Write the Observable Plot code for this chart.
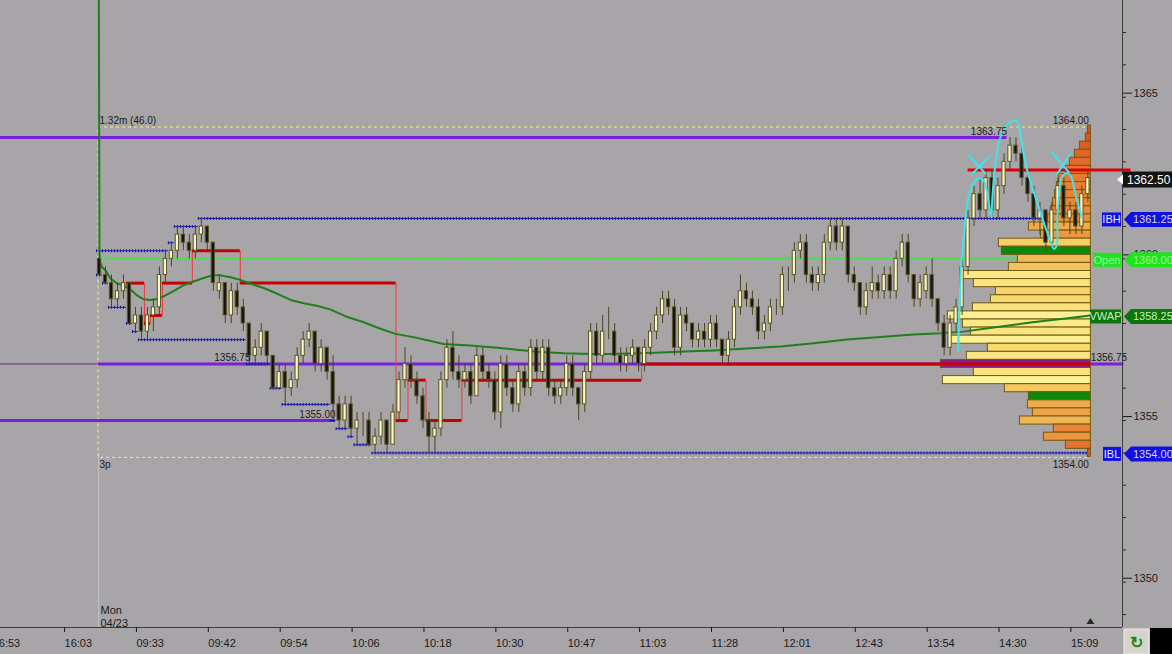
<!DOCTYPE html>
<html><head><meta charset="utf-8">
<script src="https://cdn.jsdelivr.net/npm/d3@7"></script>
<script src="https://cdn.jsdelivr.net/npm/@observablehq/plot@0.6"></script>
<style>
html,body{margin:0;padding:0;background:#a8a5a8;}
#wrap{position:relative;width:1172px;height:654px;overflow:hidden;background:#a8a5a8;}
svg text{font-family:"Liberation Sans",Arial,sans-serif;}
</style></head><body><div id="wrap"></div>
<script>
// ---------- DATA ----------
const opens = [
1360.0,1359.5,1359.25,1358.75,1359.0,1359.25,1358.0,1358.25,1357.75,1358.25,
1358.5,1359.5,1360.0,1360.25,1360.75,1360.5,1360.25,1360.75,1361.0,1360.5,
1359.0,1359.25,1358.25,1359.0,1358.5,1358.0,1357.0,1357.25,1357.75,1357.0,
1356.0,1356.5,1356.0,1356.25,1357.0,1357.5,1357.75,1356.75,1357.25,1356.5,
1355.5,1355.0,1355.5,1354.75,1355.0,1355.0,1354.25,1354.5,1355.0,1354.25,
1355.25,1356.25,1356.75,1356.25,1355.75,1355.0,1354.5,1354.75,1356.25,1357.25,
1356.5,1356.25,1356.5,1355.75,1357.0,1356.5,1356.25,1355.25,1356.75,1356.0,
1355.5,1356.5,1356.0,1357.25,1356.5,1357.25,1356.0,1355.75,1356.0,1356.75,
1356.0,1355.5,1356.5,1357.75,1357.0,1357.75,1357.75,1357.0,1356.75,1357.0,
1357.25,1356.75,1357.25,1357.75,1358.25,1358.75,1358.5,1357.25,1358.25,1358.0,
1357.5,1357.75,1357.5,1358.0,1357.5,1357.0,1357.5,1358.5,1359.0,1358.75,
1358.5,1357.75,1358.0,1358.5,1358.5,1359.5,1359.5,1360.25,1360.5,1359.5,
1359.25,1359.5,1360.5,1361.0,1360.5,1361.0,1359.5,1359.25,1358.5,1359.0,
1359.25,1359.0,1359.5,1359.0,1360.0,1360.5,1359.5,1358.75,1359.0,1359.5,
1358.75,1358.0,1357.25,1358.0,1358.5,1359.75,1361.25,1362.0,1361.5,1362.5,
1361.5,1362.25,1363.0,1363.5,1363.25,1362.5,1362.0,1361.25,1361.5,1360.5,
1361.5,1362.25,1361.25,1361.5,1361.0,1362.0];
const highs = [
1360.25,1359.75,1359.5,1359.25,1359.5,1359.25,1358.5,1358.5,1358.5,1358.75,
1359.75,1360.25,1360.5,1361.0,1361.0,1360.75,1361.0,1361.25,1361.0,1360.5,
1359.5,1359.25,1359.25,1359.25,1358.75,1358.0,1357.5,1358.0,1357.75,1357.0,
1356.75,1356.75,1356.5,1357.25,1357.75,1358.0,1357.75,1357.5,1357.25,1357.0,
1355.75,1355.75,1355.75,1355.25,1355.25,1355.25,1354.75,1355.25,1355.0,1355.5,
1356.5,1357.25,1357.0,1356.5,1356.0,1355.25,1355.0,1356.5,1357.5,1357.75,
1357.0,1356.75,1356.75,1357.25,1357.25,1356.75,1356.5,1357.0,1357.0,1356.25,
1356.75,1356.75,1357.5,1357.5,1357.5,1357.5,1356.25,1356.25,1357.0,1357.0,
1356.0,1356.75,1358.0,1358.0,1358.25,1358.5,1358.0,1357.25,1357.25,1357.5,
1357.25,1357.5,1358.0,1358.5,1359.0,1359.0,1358.75,1358.5,1358.5,1358.0,
1358.0,1358.0,1358.25,1358.25,1357.5,1357.75,1358.75,1359.5,1359.25,1359.0,
1358.75,1358.25,1358.75,1358.75,1359.75,1359.75,1360.5,1360.75,1360.75,1359.75,
1359.75,1360.75,1361.25,1361.25,1361.25,1361.0,1359.75,1359.25,1359.25,1359.75,
1359.5,1359.75,1359.75,1360.25,1360.75,1360.75,1359.5,1359.5,1359.75,1360.0,
1358.75,1358.25,1358.25,1358.75,1360.0,1361.5,1362.25,1362.5,1362.75,1362.75,
1362.5,1363.25,1363.75,1363.75,1363.5,1362.75,1362.25,1361.75,1361.5,1361.75,
1362.5,1362.5,1361.75,1361.75,1362.25,1362.75];
const lows = [
1359.5,1359.25,1358.5,1358.5,1358.75,1358.0,1357.75,1357.5,1357.5,1357.75,
1358.25,1359.25,1359.75,1360.0,1360.25,1360.0,1360.0,1360.5,1360.25,1359.0,
1358.75,1358.0,1358.0,1358.25,1357.75,1356.75,1356.75,1357.0,1356.75,1356.0,
1356.0,1355.5,1355.75,1356.0,1356.75,1357.25,1356.5,1356.5,1356.25,1355.0,
1354.75,1354.75,1354.5,1354.25,1354.5,1354.25,1354.0,1354.25,1354.0,1354.25,
1355.0,1356.0,1356.0,1355.5,1354.75,1354.0,1354.0,1354.5,1356.0,1356.25,
1356.0,1356.0,1355.5,1355.75,1356.25,1356.0,1355.0,1354.75,1355.75,1355.25,
1355.25,1355.75,1355.75,1356.25,1356.25,1355.75,1355.5,1355.5,1355.75,1355.75,
1355.0,1355.25,1356.25,1356.75,1356.75,1357.5,1356.75,1356.5,1356.5,1356.75,
1356.5,1356.5,1357.0,1357.5,1358.0,1358.25,1357.0,1357.0,1357.75,1357.25,
1357.25,1357.25,1357.25,1357.25,1356.75,1356.75,1357.25,1358.25,1358.5,1358.25,
1357.5,1357.5,1357.75,1358.25,1358.25,1359.0,1359.25,1360.0,1359.25,1359.0,
1359.0,1359.25,1360.25,1360.25,1360.25,1359.25,1359.0,1358.25,1358.25,1358.75,
1358.75,1358.75,1358.75,1358.75,1359.75,1359.25,1358.5,1358.5,1358.75,1358.5,
1357.75,1357.0,1357.0,1357.75,1358.25,1359.5,1361.0,1361.25,1361.25,1361.25,
1361.25,1362.0,1362.75,1363.0,1362.25,1361.75,1361.0,1360.75,1360.25,1360.25,
1361.25,1361.0,1360.75,1360.75,1360.75,1361.75];
const closes = [
1359.5,1359.25,1358.75,1359.0,1359.25,1358.0,1358.25,1357.75,1358.25,1358.5,
1359.5,1360.0,1360.25,1360.75,1360.5,1360.25,1360.75,1361.0,1360.5,1359.25,
1359.25,1358.25,1359.0,1358.5,1358.0,1357.0,1357.25,1357.75,1357.0,1356.0,
1356.5,1356.0,1356.25,1357.0,1357.5,1357.75,1356.75,1357.25,1356.5,1355.5,
1355.0,1355.5,1354.75,1355.0,1355.0,1354.25,1354.5,1355.0,1354.25,1355.25,
1356.25,1356.75,1356.25,1355.75,1355.0,1354.5,1354.75,1356.25,1357.25,1356.5,
1356.25,1356.5,1355.75,1357.0,1356.5,1356.25,1355.25,1356.75,1356.0,1355.5,
1356.5,1356.0,1357.25,1356.5,1357.25,1356.0,1355.75,1356.0,1356.75,1356.0,
1355.5,1356.5,1357.75,1357.0,1357.75,1357.75,1357.0,1356.75,1357.0,1357.25,
1356.75,1357.25,1357.75,1358.25,1358.75,1358.5,1357.25,1358.25,1358.0,1357.5,
1357.75,1357.5,1358.0,1357.5,1357.0,1357.5,1358.5,1359.0,1358.75,1358.5,
1357.75,1358.0,1358.5,1358.5,1359.5,1359.5,1360.25,1360.5,1359.5,1359.25,
1359.5,1360.5,1361.0,1360.5,1361.0,1359.5,1359.25,1358.5,1359.0,1359.25,
1359.0,1359.5,1359.0,1360.0,1360.5,1359.5,1358.75,1359.25,1359.5,1358.75,
1358.0,1357.25,1358.0,1358.5,1359.75,1361.25,1362.0,1361.5,1362.5,1361.5,
1362.25,1363.0,1363.5,1363.25,1362.5,1362.0,1361.25,1361.5,1360.5,1361.5,
1362.25,1361.25,1361.5,1361.0,1362.0,1362.5];

// time axis (bar index of each tick, label)
const tickBars   = [-18,-6,6,18,30,42,54,66,78,90,102,114,126,138,150,162];
const tickLabels = ["16:53","16:03","09:33","09:42","09:54","10:06","10:18","10:30","10:47","11:03","11:28","12:01","12:43","13:54","14:30","15:09"];
const priceLabelTicks = [1350,1355,1360,1365];
const priceMinorTicks = [1349,1350,1351,1352,1353,1354,1355,1356,1357,1358,1359,1360,1361,1362,1363,1364,1365,1366,1367];

// volume profile (price rows, relative volume)
const profilePrices = [1364,1363.75,1363.5,1363.25,1363,1362.75,1362.5,1362.25,1362,1361.75,1361.5,1361.25,1361,1360.75,1360.5,1360.25,1360,1359.75,1359.5,1359.25,1359,1358.75,1358.5,1358.25,1358,1357.75,1357.5,1357.25,1357,1356.75,1356.5,1356.25,1356,1355.75,1355.5,1355.25,1355,1354.75,1354.5,1354.25,1354];
const profileVolumes = [3,5,11,16,21,25,32,34,36,38,40,43,62,50,92,89,73,82,128,117,95,100,118,143,128,120,142,103,124,150,117,148,86,62,63,58,71,37,47,25,3];
const pocPrice = 1356.75;
const greenRows = [1360.25,1355.75];

// developing POC (red step line): start bar, level
const pocStarts = [5,8,9,11,16,24,50,52,55,61,91];
const pocLevels = [1359.25,1358.0,1358.25,1359.25,1360.25,1359.25,1355.0,1356.25,1355.0,1356.25,1356.75];

// initial-balance high / low steps: start bar, level
const ibHighStarts = [0,12,13,17];
const ibHighLevels = [1360.25,1360.5,1361.0,1361.25];
const ibLowStarts = [0,1,2,5,6,7,25,29,31,39,40,42,43,46];
const ibLowLevels = [1359.5,1359.25,1358.5,1358.0,1357.75,1357.5,1356.75,1356.0,1355.5,1355.0,1354.75,1354.5,1354.25,1354.0];

const openPrice = 1360.0, vwapLast = 1358.25, lastPrice = 1362.5;
const ibHigh = 1361.25, ibLow = 1354.0;
const rangeHigh = 1364.0, rangeLow = 1354.0;
const prevHighLine = 1362.75, prevHighStart = 145;

// purple reference levels: level, start bar, end bar
const purpleLevels = [1363.75, 1356.75, 1355.0];
const purpleStarts = [-17, -0.2, -17];
const purpleEnds   = [151.5, 171, 39.4];

// VWAP curve [bar, price]
const vwapBars = [-0.15,0,0.45,1,1.84,2.95,4,5.18,6.29,7.35,8.5,9.6,10.7,12.35,14,15.7,17.4,18.8,20.2,21.9,23.5,25.2,27.4,29.7,31.9,34.1,36.3,38.6,41.4,44.1,46.9,49.4,52.4,55.3,57.4,61.9,66.4,69.7,73.1,77.5,82,84.8,90.3,94.8,98.7,102.5,108.1,113.7,119.2,124.8,130.4,135.9,140.4,144.2,149.9,155.4,160.9,165.4];
const vwapVals = [1371,1359.95,1359.74,1359.64,1359.39,1359.24,1359.18,1359.05,1358.87,1358.75,1358.73,1358.76,1358.84,1359.0,1359.18,1359.3,1359.41,1359.49,1359.49,1359.43,1359.35,1359.23,1359.1,1358.92,1358.73,1358.63,1358.55,1358.43,1358.2,1358.04,1357.84,1357.68,1357.58,1357.46,1357.37,1357.32,1357.25,1357.19,1357.13,1357.08,1357.06,1357.06,1357.08,1357.11,1357.14,1357.17,1357.23,1357.29,1357.39,1357.51,1357.58,1357.66,1357.7,1357.75,1357.89,1358.03,1358.15,1358.25];

// hand-drawn cyan annotation strokes [bar, price]
const stroke1 = [[143.35,1357.17],[143.6,1358.71],[143.9,1359.95],[144.3,1360.67],[144.7,1361.5],[145.1,1361.91],[145.9,1362.33],[146.7,1362.49],[147.6,1362.42],[148.2,1362.02],[148.7,1361.4]];
const stroke2 = [[148.9,1361.29],[149.1,1362.01],[149.5,1362.83],[150.1,1363.56],[151.0,1364.02],[152.1,1364.23],[153.1,1364.28],[153.5,1364.12],[153.9,1363.66],[154.6,1362.94],[155.7,1362.22],[156.8,1361.6],[157.9,1360.98],[158.8,1360.52],[159.3,1360.31],[159.8,1360.41],[159.9,1361.19],[160.2,1362.01],[160.7,1362.53],[161.4,1362.65],[162.1,1362.58],[162.8,1362.11],[163.5,1361.6],[164.0,1361.29]];
const cross1a = [[145.1,1363.2],[147.9,1362.64]], cross1b = [[148.4,1363.14],[145.7,1362.63]];
const cross2a = [[159.0,1363.3],[161.8,1362.68]], cross2b = [[162.1,1363.25],[159.9,1362.63]];

// ---------- BUILD ----------
const W = 1172, H = 654;
const xMin = -16.528, xMax = 170.78;
const bars = opens.map((o,i)=>({i,o,h:highs[i],l:lows[i],c:closes[i]}));
const lastBar = bars.length - 1;
const profRight = lastBar + 0.5;
const pxPerBar = 5.99;
const profile = profilePrices.map((p,k)=>({p, v:profileVolumes[k]}));
const volColor = d3.scaleLinear().domain([0,40,70,100,150]).range(["#dc4a1e","#ea8a38","#f2b452","#f8d86c","#fff49c"]);
const profFill = d => d.p === pocPrice ? "#861f8c" : greenRows.includes(d.p) ? "#0a8a0a" : volColor(d.v);

function steps(starts, levels, end){
  return starts.map((s,k)=>({x1:s-0.5, x2:(k<starts.length-1?starts[k+1]:end+1)-0.5, y:levels[k]}));
}
const pocSeg = steps(pocStarts, pocLevels, lastBar);
const pocPath = pocSeg.flatMap(s=>[[s.x1,s.y],[s.x2,s.y]]);
const ibHiSeg = steps(ibHighStarts, ibHighLevels, lastBar);
const ibLoSeg = steps(ibLowStarts, ibLowLevels, lastBar);
const purple = purpleLevels.map((y,k)=>({y, x1:purpleStarts[k], x2:purpleEnds[k]}));
const vwap = vwapBars.map((b,k)=>[b, vwapVals[k]]);
const labelByBar = new Map(tickBars.map((b,k)=>[b,tickLabels[k]]));

const dotted = (data, color) => [
  Plot.ruleY(data, {x1:"x1", x2:"x2", y:"y", stroke:color, strokeWidth:1}),
  Plot.ruleY(data, {x1:"x1", x2:"x2", y:"y", stroke:color, strokeWidth:3, strokeDasharray:"1,2"})
];

const chart = Plot.plot({
  width: W, height: H,
  marginLeft: 0, marginRight: W - 1122, marginTop: 0, marginBottom: H - 627,
  x: {domain: [xMin, xMax], axis: null},
  y: {domain: [1348.6, 1367.99], axis: null},
  style: {background: "transparent", fontFamily: "'Liberation Sans', Arial, sans-serif", fontSize: "11px", color: "#1a1a1a", overflow: "visible"},
  marks: [
    // session separator
    Plot.ruleX([-0.15], {y1: 1348.6, y2: rangeLow, stroke: "#c4c2c4", strokeWidth: 1}),
    // range box
    Plot.rect([{a:0,b:lastBar}], {x1:"a", x2:"b", y1: rangeLow, y2: rangeHigh, fill:"none", stroke:"#f3f07c", strokeDasharray:"3,3", insetLeft:-1, insetRight:-3, insetTop:-2, insetBottom:-5}),
    // purple levels
    Plot.ruleY([purpleLevels[1]], {x1: xMin, x2: -0.2, stroke: "#6a2a8a", strokeWidth: 1}),
    Plot.ruleY(purple, {x1:"x1", x2:"x2", y:"y", stroke:"#7a1fe0", strokeWidth:3}),
    // IB steps and open
    ...dotted(ibHiSeg, "#1a1aa8"),
    ...dotted(ibLoSeg, "#1a1aa8"),
    ...dotted([{x1:-0.2, x2:profRight, y:openPrice}], "#3ce83c"),
    // volume profile
    Plot.rect(profile, {x1: d => profRight - d.v/pxPerBar, x2: profRight, y1: d=>d.p-0.125, y2: d=>d.p+0.125, fill: profFill, stroke:"#6e5a12", strokeWidth:1}),
    // red lines
    Plot.line(pocPath, {stroke:"#ee3a3a", strokeWidth:1}),
    Plot.ruleY(pocSeg, {x1:"x1", x2:"x2", y:"y", stroke:"#c80000", strokeWidth:3}),
    Plot.ruleY([prevHighLine], {x1: prevHighStart, x2: 172.2, stroke:"#e00000", strokeWidth:3}),
    // VWAP
    Plot.line(vwap, {stroke:"#1f7f1f", strokeWidth:2}),
    // candles
    Plot.ruleX(bars, {x:"i", y1:"l", y2:"h", stroke:"#4a4620", strokeWidth:1}),
    Plot.rect(bars, {x1: d=>d.i-0.27, x2: d=>d.i+0.27, y1: d=>Math.min(d.o,d.c), y2: d=>Math.max(d.o,d.c), fill: d=> d.c>=d.o ? "#fcf9c6" : "#141414", stroke:"#5a5527", strokeWidth:1}),
    // annotations
    ...[stroke1, stroke2, cross1a, cross1b, cross2a, cross2b].map(s => Plot.line(s, {stroke:"#3fe4ec", strokeWidth:2, curve:"catmull-rom"})),
    // texts
    Plot.text(["1.32m (46.0)"], {x: 0, y: rangeHigh, dy: -9, textAnchor: "start", fontSize: 10, fill: "#1a1a1a"}),
    Plot.text(["3p"], {x: 0, y: rangeLow, dy: 12, textAnchor: "start", fontSize: 10, fill: "#1a1a1a"}),
    Plot.text([rangeHigh.toFixed(2)], {x: profRight, y: rangeHigh, dy: -9, dx: -2, textAnchor: "end", fontSize: 10, fill: "#1a1a1a"}),
    Plot.text([rangeLow.toFixed(2)], {x: profRight, y: rangeLow, dy: 12, dx: -2, textAnchor: "end", fontSize: 10, fill: "#1a1a1a"}),
    Plot.text(purple.filter(d=>d.x2<170), {x:"x2", y:"y", text: d=>d.y.toFixed(2), textAnchor:"end", dy:-6, fontSize:10, fill:"#1a1a1a"}),
    Plot.text([purpleLevels[1]], {x: 25.2, y: d=>d, text: d=>d.toFixed(2), textAnchor:"end", dy:-6, fontSize:10, fill:"#1a1a1a"}),
    Plot.text([purpleLevels[1]], {x: profRight, y: d=>d, text: d=>d.toFixed(2), textAnchor:"start", dy:-6, fontSize:10, fill:"#1a1a1a"}),
    Plot.text(["Mon\n04/23"], {x: 0, frameAnchor: "bottom", lineAnchor: "bottom", dy: -1, dx: 1, textAnchor: "start", fontSize: 11, lineHeight: 1.1, fill: "#1a1a1a"}),
    // frame lines
    Plot.ruleX([xMax], {stroke:"#3a3a3a"}),
    Plot.ruleY([1348.6], {x1: xMin, x2: xMax, stroke:"#3a3a3a"}),
    // axes
    Plot.axisX({ticks: tickBars, anchor: "bottom", tickSize: 5, tickPadding: 7, tickFormat: d => labelByBar.get(d), textAnchor: "start", dx: 1, color: "#1a1a1a", fontSize: 11}),
    Plot.axisY({ticks: priceMinorTicks, anchor: "right", tickSize: 3, tickFormat: () => "", color: "#2a2a2a"}),
    Plot.axisY({ticks: priceLabelTicks, anchor: "right", tickSize: 9, tickPadding: 2, dy: -4, tickFormat: d => String(d), color: "#1a1a1a", fontSize: 11})
  ]
});
document.getElementById("wrap").appendChild(chart);

// ---------- right-side flags (placed with the plot's own scales) ----------
const svg = d3.select(chart);
const ys = chart.scale("y"), xs = chart.scale("x");
const ax = xs.apply(xMax);
function flag(price, text, bg, fg){
  const y = ys.apply(price) + 1.5, h = 15, x0 = ax + 2;
  svg.append("path").attr("d", `M${x0},${y} L${x0+7},${y-h/2} L${W},${y-h/2} L${W},${y+h/2} L${x0+7},${y+h/2} Z`).attr("fill", bg);
  svg.append("text").attr("x", x0+9).attr("y", y).attr("dy","0.35em").attr("text-anchor","start").attr("fill", fg).attr("font-size", 11).text(text);
}
function tag(price, text, bg, fg, w){
  const y = ys.apply(price) + 1.5, h = 14;
  svg.append("rect").attr("x", ax - 1 - w).attr("y", y-h/2).attr("width", w).attr("height", h).attr("fill", bg);
  svg.append("text").attr("x", ax - 1 - w/2).attr("y", y).attr("dy","0.35em").attr("text-anchor","middle").attr("fill", fg).attr("font-size", 11).text(text);
}
flag(ibHigh, ibHigh.toFixed(2), "#1010e4", "#d8d8f4"); tag(ibHigh, "IBH", "#1010e4", "#e8e8ff", 19);
flag(openPrice, openPrice.toFixed(2), "#1ee41e", "#9af49a"); tag(openPrice, "Open", "#1ee41e", "#9af49a", 28);
flag(vwapLast, vwapLast.toFixed(2), "#0b740b", "#c4eec4"); tag(vwapLast, "VWAP", "#0b740b", "#c4eec4", 31);
flag(ibLow, ibLow.toFixed(2), "#1010e4", "#d8d8f4"); tag(ibLow, "IBL", "#1010e4", "#e8e8ff", 18);
// last price
{
  const y = ys.apply(lastPrice) + 2, h = 16;
  svg.append("rect").attr("x", ax+1).attr("y", y-h/2).attr("width", W-ax-1).attr("height", h).attr("fill", "#141414");
  svg.append("path").attr("d", `M${ax-5},${y} L${ax+1},${y-5} L${ax+1},${y+5} Z`).attr("fill", "#ffffff");
  svg.append("text").attr("x", ax+5).attr("y", y).attr("dy","0.35em").attr("text-anchor","start").attr("fill", "#ffffff").attr("font-size", 12).text(lastPrice.toFixed(2));
}
// scroll marker and corner widget
{
  const xb = xs.apply(profRight), yb = ys.apply(1348.6);
  svg.append("path").attr("d", `M${xb-4},${yb-3} L${xb+4},${yb-3} L${xb},${yb-9} Z`).attr("fill", "#2a2a2a");
  svg.append("rect").attr("x", ax+2).attr("y", yb+2).attr("width", 25).attr("height", H-yb-2).attr("fill", "#d6d3cc").attr("stroke","#eeeeee");
  svg.append("text").attr("x", ax+14.5).attr("y", yb+15).attr("dy","0.35em").attr("text-anchor","middle").attr("fill","#1b8a1b").attr("font-size",16).attr("font-weight","bold").text("↻");
  svg.append("rect").attr("x", ax+28).attr("y", yb+1).attr("width", W-ax-28).attr("height", H-yb-1).attr("fill", "#000000");
}
</script>
</body></html>
